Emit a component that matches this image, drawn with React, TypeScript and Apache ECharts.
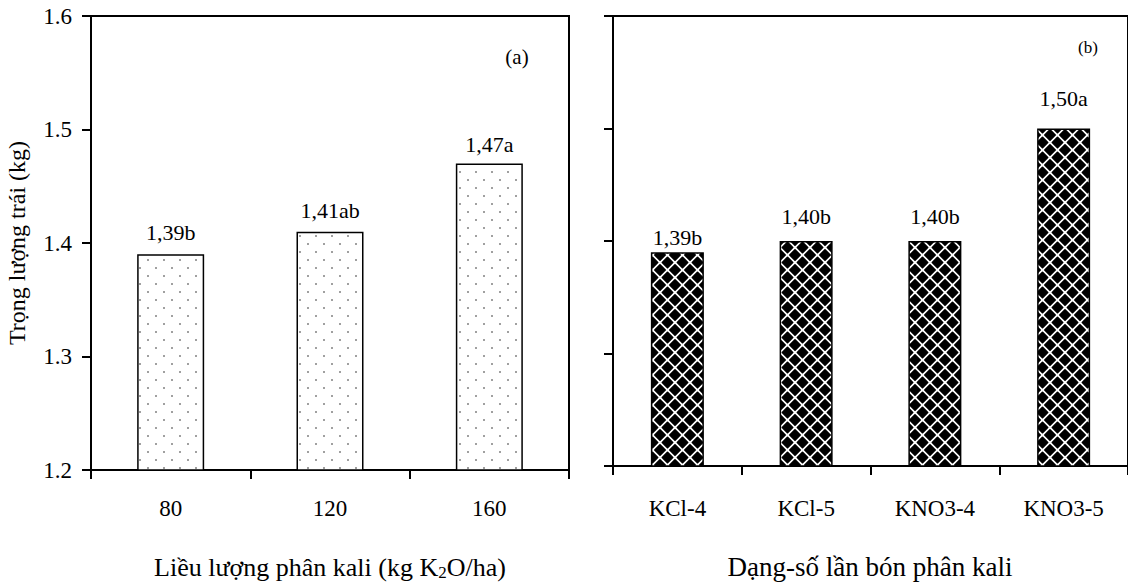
import React, { useEffect, useRef } from "react";
import * as echarts from "echarts";

const doseCategories = ["80", "120", "160"];
const doseValues = [1.39, 1.41, 1.47];
const doseLabels = ["1,39b", "1,41ab", "1,47a"];

const formCategories = ["KCl-4", "KCl-5", "KNO3-4", "KNO3-5"];
const formValues = [1.39, 1.4, 1.4, 1.5];
const formLabels = ["1,39b", "1,40b", "1,40b", "1,50a"];

const doseLabelGaps = [11, 10, 8];
const formLabelGaps = [4, 14, 14, 19];

const yTicks = { min: 1.2, max: 1.6, interval: 0.1 };

const FONT = "Liberation Serif";

const dotSvg =
  "data:image/svg+xml;utf8," +
  encodeURIComponent(
    '<svg xmlns="http://www.w3.org/2000/svg" width="16" height="16"><rect width="16" height="16" fill="#fff"/><rect x="3.3" y="3.2" width="1.4" height="1.6" fill="#555"/><rect x="11.3" y="11.2" width="1.4" height="1.6" fill="#555"/></svg>'
  );

const d = 5.2;
const dia = (cx: number, cy: number) =>
  `<polygon points="${cx},${cy - d} ${cx + d},${cy} ${cx},${cy + d} ${cx - d},${cy}" fill="#000" stroke="#000" stroke-width="1.6" stroke-linejoin="round"/>`;
const diamondSvg =
  "data:image/svg+xml;utf8," +
  encodeURIComponent(
    '<svg xmlns="http://www.w3.org/2000/svg" width="15" height="15"><rect width="15" height="15" fill="#fff"/>' +
      dia(7.5, 7.5) +
      dia(0, 0) +
      dia(15, 0) +
      dia(0, 15) +
      dia(15, 15) +
      "</svg>"
  );

export default function App() {
  const ref = useRef<HTMLDivElement>(null);

  useEffect(() => {
    if (!ref.current) return;
    const chart = echarts.init(ref.current, null, { renderer: "svg" });

    const axisLine = { show: true, lineStyle: { color: "#000", width: 2 } };
    const axisTick = { show: true, inside: false, length: 9, lineStyle: { color: "#000", width: 2 } };
    const textBase = { fontFamily: FONT, color: "#000" };

    const option: any = {
      animation: false,
      backgroundColor: "#fff",
      grid: [
        { left: 91, top: 16, width: 478, height: 454, show: true, borderColor: "#000", borderWidth: 2, backgroundColor: "transparent" },
        { left: 613, top: 16, width: 522, height: 450, show: true, borderColor: "#000", borderWidth: 2, backgroundColor: "transparent" },
      ],
      xAxis: [
        {
          type: "category",
          gridIndex: 0,
          data: doseCategories,
          boundaryGap: true,
          axisLine,
          axisTick: { ...axisTick, alignWithLabel: false },
          axisLabel: { ...textBase, fontSize: 23, margin: 27 },
          splitLine: { show: false },
        },
        {
          type: "category",
          gridIndex: 1,
          data: formCategories,
          boundaryGap: true,
          axisLine,
          axisTick: { ...axisTick, alignWithLabel: false },
          axisLabel: { ...textBase, fontSize: 23, margin: 31 },
          splitLine: { show: false },
        },
      ],
      yAxis: [
        {
          type: "value",
          gridIndex: 0,
          min: yTicks.min,
          max: yTicks.max,
          interval: yTicks.interval,
          axisLine,
          axisTick,
          axisLabel: { ...textBase, fontSize: 23, margin: 19, formatter: (v: number) => v.toFixed(1) },
          splitLine: { show: false },
        },
        {
          type: "value",
          gridIndex: 1,
          min: yTicks.min,
          max: yTicks.max,
          interval: yTicks.interval,
          axisLine,
          axisTick,
          axisLabel: { show: false },
          splitLine: { show: false },
        },
      ],
      series: [
        {
          type: "bar",
          xAxisIndex: 0,
          yAxisIndex: 0,
          barWidth: 67,
          data: doseValues.map((v, i) => ({
            value: v,
            label: { distance: doseLabelGaps[i] },
          })),
          itemStyle: {
            color: { image: dotSvg, repeat: "repeat", imageWidth: 16, imageHeight: 16 },
            borderColor: "#000",
            borderWidth: 1.5,
          },
          label: {
            show: true,
            position: "top",
            ...textBase,
            fontSize: 22,
            formatter: (p: any) => doseLabels[p.dataIndex],
          },
        },
        {
          type: "bar",
          xAxisIndex: 1,
          yAxisIndex: 1,
          barWidth: 53,
          data: formValues.map((v, i) => ({
            value: v,
            label: { distance: formLabelGaps[i] },
          })),
          itemStyle: {
            color: { image: diamondSvg, repeat: "repeat", imageWidth: 15, imageHeight: 15 },
            borderColor: "#000",
            borderWidth: 1.5,
          },
          label: {
            show: true,
            position: "top",
            ...textBase,
            fontSize: 22,
            formatter: (p: any) => formLabels[p.dataIndex],
          },
        },
      ],
      graphic: [
        {
          type: "text",
          x: 17,
          y: 243,
          rotation: Math.PI / 2,
          style: {
            text: "Trọng lượng trái (kg)",
            fontFamily: FONT,
            fontSize: 24,
            fill: "#000",
            align: "center",
            verticalAlign: "middle",
          },
        },
        {
          type: "text",
          x: 517,
          y: 57,
          style: { text: "(a)", fontFamily: FONT, fontSize: 21, fill: "#000", align: "center", verticalAlign: "middle" },
        },
        {
          type: "text",
          x: 1088,
          y: 47,
          style: { text: "(b)", fontFamily: FONT, fontSize: 17, fill: "#000", align: "center", verticalAlign: "middle" },
        },
        {
          type: "text",
          x: 330,
          y: 567,
          style: {
            text: "Liều lượng phân kali (kg K{sub|2}O/ha)",
            fontFamily: FONT,
            fontSize: 26,
            lineHeight: 28,
            fill: "#000",
            align: "center",
            verticalAlign: "middle",
            rich: {
              sub: { fontFamily: FONT, fontSize: 17, lineHeight: 12, verticalAlign: "bottom", fill: "#000" },
            },
          },
        },
        {
          type: "text",
          x: 870,
          y: 567,
          style: {
            text: "Dạng-số lần bón phân kali",
            fontFamily: FONT,
            fontSize: 27,
            fill: "#000",
            align: "center",
            verticalAlign: "middle",
          },
        },
      ],
    };

    chart.setOption(option);
    return () => chart.dispose();
  }, []);

  return (
    <div
      ref={ref}
      style={{ position: "absolute", left: 0, top: 0, width: 1128, height: 588 }}
    />
  );
}
